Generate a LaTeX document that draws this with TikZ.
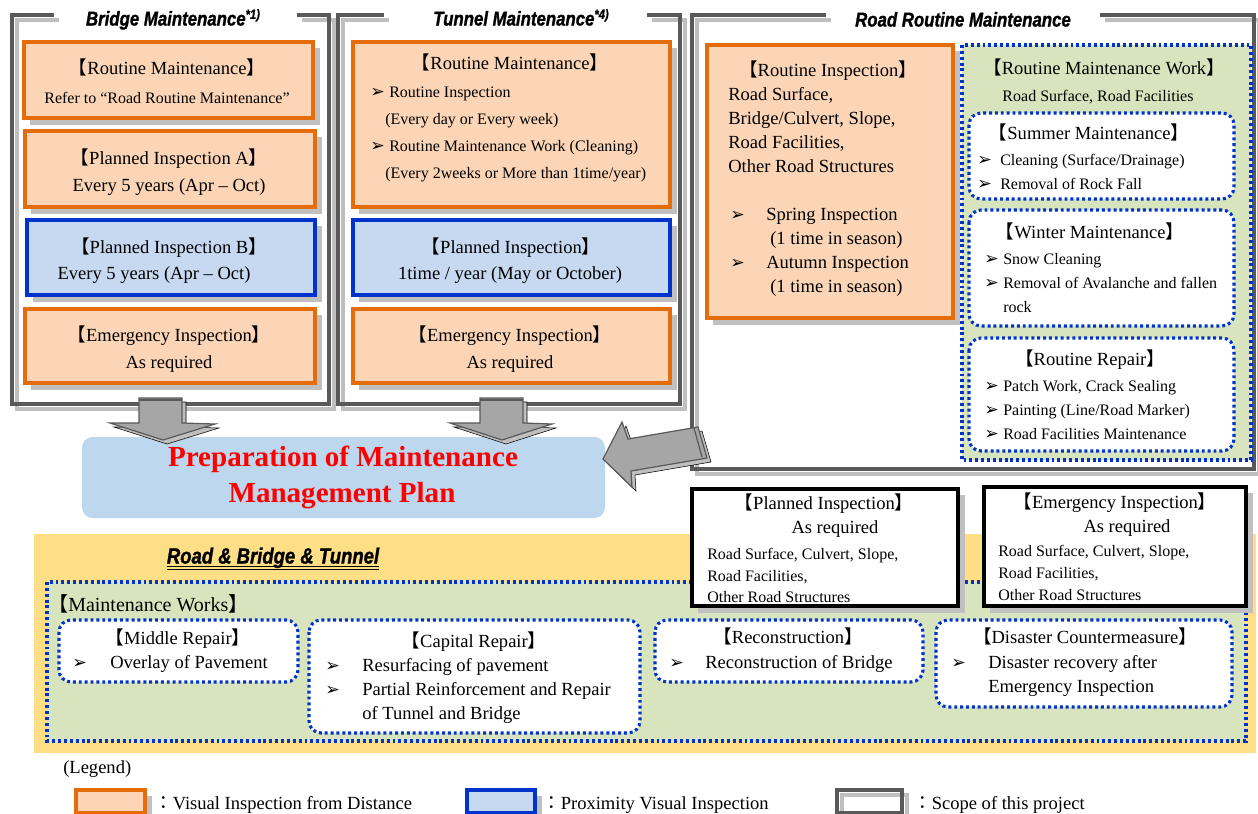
\documentclass[tikz,border=0pt]{standalone}
\usepackage{fontspec}
\setmainfont{Liberation Serif}
\newfontfamily\cjkfont{Noto Sans CJK JP}
\newfontfamily\dingfont{DejaVu Sans}
\newfontfamily\hdfont[FakeStretch=0.84,FakeBold=1.2]{Liberation Sans}
\usetikzlibrary{calc}

\definecolor{cOrFill}{HTML}{FBD5B5}
\definecolor{cOrLine}{HTML}{E46C0A}
\definecolor{cBlFill}{HTML}{C6D9F1}
\definecolor{cBlLine}{HTML}{0033CC}
\definecolor{cDot}{HTML}{0033CC}
\definecolor{cGreen}{HTML}{D7E4BD}
\definecolor{cYellow}{HTML}{FFDF85}
\definecolor{cPlan}{HTML}{BDD7EE}
\definecolor{cDark}{HTML}{595959}
\definecolor{cLight}{HTML}{BFBFBF}
\definecolor{cArrow}{HTML}{A6A6A6}
\definecolor{cShade}{HTML}{C0C0C0}

% text sizes
\newcommand\szA{\fontsize{13.9pt}{16pt}\selectfont}
\newcommand\szB{\fontsize{12pt}{14pt}\selectfont}
\newcommand\szC{\fontsize{15pt}{18pt}\selectfont}
\newcommand\szD{\fontsize{21.8pt}{24pt}\selectfont}
\newcommand\szH{\fontsize{15pt}{17pt}\selectfont}

% brackets, colon, bullet and superscript marks
\newcommand\lbk{{\cjkfont 【}}
\newcommand\rbk{{\cjkfont 】}}
\newcommand\fwcolon{{\cjkfont ：}}
\newcommand\arwb{{\dingfont\fontsize{13pt}{14pt}\selectfont ➢}}
\newcommand\note[1]{\raisebox{5pt}{\fontsize{10pt}{10pt}\selectfont #1}}

\tikzset{
  frd/.style={draw=cDark, line width=2.4pt, line join=miter},
  frl/.style={draw=cLight, line width=2.4pt, line join=miter},
  obox/.style={draw=cOrLine, fill=cOrFill, line width=3pt},
  bbox/.style={draw=cBlLine, fill=cBlFill, line width=3pt},
  kbox/.style={draw=black, fill=white, line width=3.2pt},
  shd/.style={fill=cShade},
  dotbox/.style={draw=cDot, line width=2.3pt, dash pattern=on 2.2pt off 2.2pt},
  rdot/.style={dotbox, fill=white, rounded corners=9pt},
  arr/.style={fill=cArrow, draw=cDark, line width=0.9pt, line join=miter},
  arrs/.style={fill=cLight},
  ct/.style={anchor=mid, inner sep=0pt, yshift=-2.4pt, font=\szA},
  lt/.style={anchor=mid west, inner sep=0pt, yshift=-2.4pt, font=\szA},
  hd/.style={anchor=mid, inner sep=0pt, yshift=-2.6pt, font=\hdfont\bfseries\itshape\szH},
}

% open frame with a gap for its title: x1,y1,x2,y2,gap-left,gap-right
\newcommand\scopeframe[6]{%
  \draw[frl] (#5+5,#2+5) -- (#1+5,#2+5) -- (#1+5,#4+5) -- (#3+5,#4+5) -- (#3+5,#2+5) -- (#6+5,#2+5);
  \draw[frd] (#5,#2) -- (#1,#2) -- (#1,#4) -- (#3,#4) -- (#3,#2) -- (#6,#2);}
% box with a grey drop shadow: style,x1,y1,x2,y2
\newcommand\shadowed[5]{%
  \fill[shd] (#2+6,#3+6) rectangle (#4+7,#5+7);
  \draw[#1] (#2,#3) rectangle (#4,#5);}

\begin{document}
\begin{tikzpicture}[x=0.75pt,y=-0.75pt]
\clip (0,0) rectangle (1258,814);
\fill[white] (0,0) rectangle (1258,814);

% ---------- scope frames ----------
\scopeframe{12}{15}{329}{404}{54}{297}
\scopeframe{338}{15}{680}{404}{384}{647}
\scopeframe{692}{15}{1254}{469}{826}{1100}

\node[hd] (ttlBridge) at (173,19) {Bridge Maintenance\note{*1)}};
\node[hd] (ttlTunnel) at (521,19) {Tunnel Maintenance\note{*4)}};
\node[hd] (ttlRoad) at (963,20) {Road Routine Maintenance};

% ---------- bridge maintenance ----------
\shadowed{obox}{24}{42}{313}{118}
\shadowed{obox}{25}{131}{315}{207}
\shadowed{bbox}{27}{220}{315}{295}
\shadowed{obox}{25}{309}{315}{383}
\node[ct] (bRMh) at (167,68) {\lbk Routine Maintenance\rbk};
\node[ct, font=\szB] (bRMt) at (167,97) {Refer to “Road Routine Maintenance”};
\node[ct] (bPAh) at (169,158) {\lbk Planned Inspection A\rbk};
\node[ct] (bPAt) at (169,185) {Every 5 years (Apr – Oct)};
\node[ct] (bPBh) at (169,247) {\lbk Planned Inspection B\rbk};
\node[ct] (bPBt) at (154,273) {Every 5 years (Apr – Oct)};
\node[ct] (bEIh) at (169,335) {\lbk Emergency Inspection\rbk};
\node[ct] (bEIt) at (169,362) {As required};

% ---------- tunnel maintenance ----------
\shadowed{obox}{353}{42}{670}{207}
\shadowed{bbox}{353}{220}{670}{295}
\shadowed{obox}{353}{309}{670}{383}
\node[ct] (tRMh) at (510,63) {\lbk Routine Maintenance\rbk};
\node[lt] (tB1) at (370,91) {\arwb};
\node[lt, font=\szB] (tL1) at (389,91) {Routine Inspection};
\node[lt, font=\szB] (tL2) at (385,118) {(Every day or Every week)};
\node[lt] (tB2) at (370,145) {\arwb};
\node[lt, font=\szB] (tL3) at (389,145) {Routine Maintenance Work (Cleaning)};
\node[lt, font=\szB] (tL4) at (385,172) {(Every 2weeks or More than 1time/year)};
\node[ct] (tPIh) at (511,247) {\lbk Planned Inspection\rbk};
\node[ct] (tPIt) at (510,273) {1time / year (May or October)};
\node[ct] (tEIh) at (510,335) {\lbk Emergency Inspection\rbk};
\node[ct] (tEIt) at (510,362) {As required};

% ---------- road routine maintenance ----------
\shadowed{obox}{707}{45}{953}{318}
\node[ct] (rRIh) at (828,70) {\lbk Routine Inspection\rbk};
\node[lt] (rR1) at (728,94) {Road Surface,};
\node[lt] (rR2) at (728,118) {Bridge/Culvert, Slope,};
\node[lt] (rR3) at (728,142) {Road Facilities,};
\node[lt] (rR4) at (728,166) {Other Road Structures};
\node[lt] (rB1) at (730,214) {\arwb};
\node[lt] (rS1) at (766,214) {Spring Inspection};
\node[lt] (rS2) at (770,238) {(1 time in season)};
\node[lt] (rB2) at (730,262) {\arwb};
\node[lt] (rS3) at (766,262) {Autumn Inspection};
\node[lt] (rS4) at (770,286) {(1 time in season)};

\draw[dotbox, fill=cGreen] (962,45) rectangle (1251,460);
\node[ct] (gRWh) at (1104,68) {\lbk Routine Maintenance Work\rbk};
\node[ct, font=\szB] (gRWt) at (1098,95) {Road Surface, Road Facilities};

\draw[rdot] (969,113) rectangle (1234,199);
\node[ct] (sMh) at (1089,133) {\lbk Summer Maintenance\rbk};
\node[lt] (sB1) at (977,159) {\arwb};
\node[lt, font=\szB] (sL1) at (1000,159) {Cleaning (Surface/Drainage)};
\node[lt] (sB2) at (977,183) {\arwb};
\node[lt, font=\szB] (sL2) at (1000,183) {Removal of Rock Fall};

\draw[rdot] (969,210) rectangle (1234,326);
\node[ct] (wMh) at (1090,232) {\lbk Winter Maintenance\rbk};
\node[lt] (wB1) at (984,258) {\arwb};
\node[lt, font=\szB] (wL1) at (1003,258) {Snow Cleaning};
\node[lt] (wB2) at (984,282) {\arwb};
\node[lt, font=\szB] (wL2) at (1003,282) {Removal of Avalanche and fallen};
\node[lt, font=\szB] (wL3) at (1003,306) {rock};

\draw[rdot] (969,338) rectangle (1234,451);
\node[ct] (rpH) at (1090,359) {\lbk Routine Repair\rbk};
\node[lt] (rpB1) at (984,385) {\arwb};
\node[lt, font=\szB] (rpL1) at (1003,385) {Patch Work, Crack Sealing};
\node[lt] (rpB2) at (984,409) {\arwb};
\node[lt, font=\szB] (rpL2) at (1003,409) {Painting (Line/Road Marker)};
\node[lt] (rpB3) at (984,433) {\arwb};
\node[lt, font=\szB] (rpL3) at (1003,433) {Road Facilities Maintenance};

% ---------- maintenance management plan ----------
\fill[cPlan, rounded corners=8pt] (82,437) rectangle (605,518);
\node[ct, font=\szD\bfseries, text=red] (planA) at (343,460) {Preparation of Maintenance};
\node[ct, font=\szD\bfseries, text=red] (planB) at (342,496) {Management Plan};

% block arrows into the plan
\foreach \s/\st in {4/arrs, 0/arr} {
  \filldraw[\st, shift={(\s,\s)}] (139,398) -- (182,398) -- (182,423) -- (215,424)
    -- (163,440) -- (110,423) -- (139,423) -- cycle;
  \filldraw[\st, shift={(\s,\s)}] (480,398) -- (523,398) -- (523,423) -- (552,424)
    -- (502,440) -- (450,423) -- (480,423) -- cycle;
  \filldraw[\st, shift={(\s,\s)}] (603,459) -- (622,422) -- (628,439) -- (698,427)
    -- (707,458) -- (631,471) -- (632,487) -- cycle;
}
\draw[cDark, line width=0.9pt] (694,428) -- (702,457);
\draw[cDark, line width=0.9pt] (139,400) -- (182,400);
\draw[cDark, line width=0.9pt] (480,400) -- (523,400);

% ---------- road & bridge & tunnel ----------
\fill[cYellow] (34,534) rectangle (1256,753);
\draw[dotbox, fill=cGreen] (47,582) rectangle (1246,741);

\node[hd, font=\hdfont\bfseries\itshape\fontsize{16.5pt}{18pt}\selectfont] (rbt) at (273,557) {Road \& Bridge \& Tunnel};
\draw[line width=1.1pt] ([yshift=-2.4pt]rbt.base west) -- ([yshift=-2.4pt]rbt.base east);
\draw[line width=1.1pt] ([yshift=-4.6pt]rbt.base west) -- ([yshift=-4.6pt]rbt.base east);

\shadowed{kbox}{692}{489}{958}{606}
\node[ct] (pIh) at (824,503) {\lbk Planned Inspection\rbk};
\node[ct] (pIt) at (835,527) {As required};
\node[lt, font=\szB] (pI1) at (707,553) {Road Surface, Culvert, Slope,};
\node[lt, font=\szB] (pI2) at (707,575) {Road Facilities,};
\node[lt, font=\szB] (pI3) at (707,596) {Other Road Structures};

\shadowed{kbox}{984}{487}{1246}{606}
\node[ct] (eIh) at (1115,502) {\lbk Emergency Inspection\rbk};
\node[ct] (eIt) at (1127,526) {As required};
\node[lt, font=\szB] (eI1) at (998,550) {Road Surface, Culvert, Slope,};
\node[lt, font=\szB] (eI2) at (998,572) {Road Facilities,};
\node[lt, font=\szB] (eI3) at (998,594) {Other Road Structures};

\node[lt, font=\szC] (mwH) at (48,605) {\lbk Maintenance Works\rbk};

\draw[rdot] (59,620) rectangle (298,682);
\node[ct] (mdH) at (178,638) {\lbk Middle Repair\rbk};
\node[lt] (mdB) at (72,662) {\arwb};
\node[lt] (mdL) at (110,662) {Overlay of Pavement};

\draw[rdot] (309,620) rectangle (640,733);
\node[ct] (cpH) at (474,641) {\lbk Capital Repair\rbk};
\node[lt] (cpB1) at (325,665) {\arwb};
\node[lt] (cpL1) at (362,665) {Resurfacing of pavement};
\node[lt] (cpB2) at (325,689) {\arwb};
\node[lt] (cpL2) at (362,689) {Partial Reinforcement and Repair};
\node[lt] (cpL3) at (362,713) {of Tunnel and Bridge};

\draw[rdot] (655,620) rectangle (923,682);
\node[ct] (rcH) at (788,637) {\lbk Reconstruction\rbk};
\node[lt] (rcB) at (669,662) {\arwb};
\node[lt] (rcL) at (705,662) {Reconstruction of Bridge};

\draw[rdot] (936,620) rectangle (1232,707);
\node[ct] (dsH) at (1085,637) {\lbk Disaster Countermeasure\rbk};
\node[lt] (dsB) at (951,662) {\arwb};
\node[lt] (dsL1) at (988,662) {Disaster recovery after};
\node[lt] (dsL2) at (988,686) {Emergency Inspection};

% ---------- legend ----------
\node[lt] (lgH) at (63,767) {(Legend)};
\shadowed{obox}{76}{790}{145}{813}
\node[lt] (lg1) at (154,803) {\fwcolon Visual Inspection from Distance};
\shadowed{bbox}{467}{790}{535}{813}
\node[lt] (lg2) at (542,803) {\fwcolon Proximity Visual Inspection};
\draw[frl] (842,795) rectangle (907,818);
\draw[frd] (837,790) rectangle (902,813);
\node[lt] (lg3) at (913,803) {\fwcolon Scope of this project};
\end{tikzpicture}
\end{document}
